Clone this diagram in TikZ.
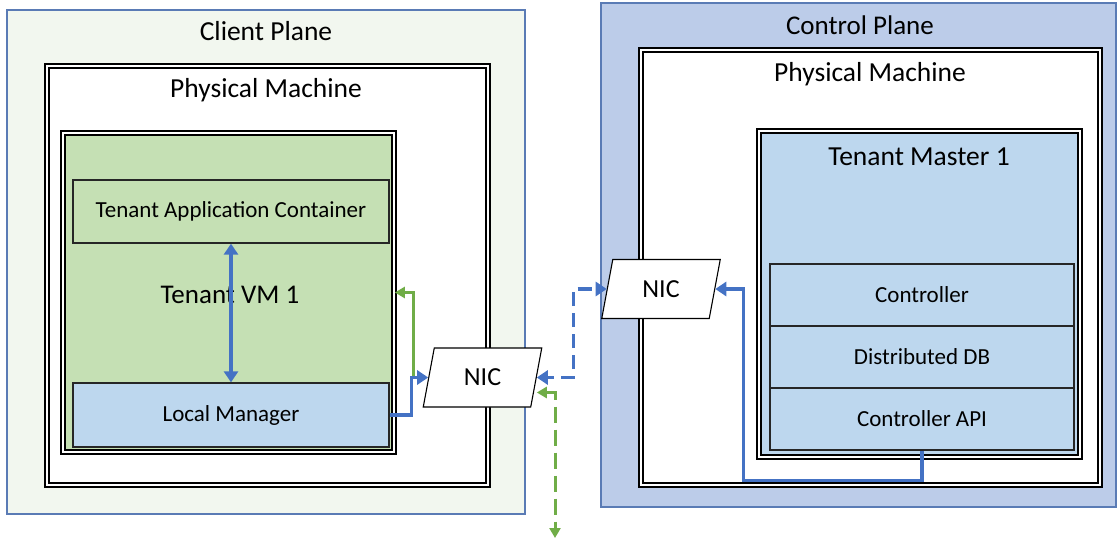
\documentclass[tikz,border=0pt]{standalone}
\usepackage{fontspec}
\setmainfont{Carlito}
\usetikzlibrary{arrows.meta,shapes.geometric}
\definecolor{cpfill}{HTML}{F2F7EF}
\definecolor{cpborder}{HTML}{5A7BB5}
\definecolor{ctlfill}{HTML}{BCCCE9}
\definecolor{vmgreen}{HTML}{C5E0B4}
\definecolor{lightblue}{HTML}{BDD7EE}
\definecolor{arrblue}{HTML}{4472C4}
\definecolor{arrgreen}{HTML}{70AD47}
\newcommand{\fs}[1]{\fontsize{#1}{#1}\selectfont}
\tikzset{
  plane/.style={draw=cpborder, line width=1.2pt, inner sep=0pt},
  dbl/.style={draw=black, double=white, double distance=2pt, line width=1.7pt, inner sep=0pt},
  part/.style={draw=black!85, line width=1.3pt, inner sep=0pt, font=\fs{23}},
  nic/.style={draw=black, line width=1.1pt, fill=white, trapezium, trapezium left angle=76,
    trapezium right angle=104, trapezium stretches=true, minimum width=119pt, minimum height=59pt,
    inner sep=0pt, font=\fs{26}},
  title/.style={inner sep=0pt, font=\fs{27.5}},
  barrow/.style={draw=arrblue, line width=3.2pt, arrows={-Triangle[length=11pt,width=14pt]}},
  garrow/.style={draw=arrgreen, line width=3pt, arrows={-Triangle[length=10pt,width=11pt]}},
}
\begin{document}
\begin{tikzpicture}[x=1pt,y=-1pt]
\useasboundingbox (0,0) rectangle (1117,541);
% planes
\node[plane, fill=cpfill, minimum width=518pt, minimum height=504pt] (client) at (266,262) {};
\node[title] (clientT) at (266,31) {Client Plane};
\node[plane, fill=ctlfill, minimum width=515pt, minimum height=504pt] (control) at (858.5,255) {};
\node[title, font=\fs{27}] (controlT) at (860,25) {Control Plane};
% physical machines
\node[dbl, fill=white, minimum width=441pt, minimum height=419pt] (pmL) at (267.5,275.5) {};
\node[title] (pmLT) at (266,90) {Physical Machine};
\node[dbl, fill=white, minimum width=459pt, minimum height=435pt] (pmR) at (870.5,267.5) {};
\node[title] (pmRT) at (870,74) {Physical Machine};
% tenant VM
\node[dbl, fill=vmgreen, minimum width=331pt, minimum height=319pt] (vm) at (228.5,292.5) {};
\node[part, fill=vmgreen, minimum width=316pt, minimum height=63pt] (app) at (231,211.5) {Tenant Application Container};
\node[part, fill=lightblue, minimum width=316pt, minimum height=64pt] (lm) at (231,415) {Local Manager};
\node[inner sep=0pt, font=\fs{27}] (vmT) at (230,295) {Tenant VM 1};
% tenant master
\node[dbl, fill=lightblue, minimum width=321pt, minimum height=326pt] (tm) at (919.5,294) {};
\node[inner sep=0pt, font=\fs{27.5}] (tmT) at (919,157) {Tenant Master 1};
\node[part, fill=lightblue, minimum width=304pt, minimum height=62pt] (ctrl) at (922,295) {Controller};
\node[part, fill=lightblue, minimum width=304pt, minimum height=62pt] (ddb) at (922,357) {Distributed DB};
\node[part, fill=lightblue, minimum width=304pt, minimum height=62pt] (api) at (922,419) {Controller API};
% NICs
\node[nic] (nicL) at (482.5,377.5) {NIC};
\node[nic] (nicR) at (661,289) {NIC};
% connectors
\coordinate (g1) at (413,377);
\coordinate (gend) at (555,538);
\draw[barrow, arrows={Triangle[length=11pt,width=14pt]-Triangle[length=11pt,width=14pt]}] (app.south) -- (lm.north);
\draw[garrow] (g1) |- (vm.east);
\draw[barrow] (lm.east) -- ++(22,0) |- (nicL.west);
\draw[barrow, dash pattern=on 14pt off 7pt, dash phase=7pt, arrows={Triangle[length=11pt,width=14pt]-Triangle[length=11pt,width=14pt]}] (nicL.east) -- ++(37,0) |- (nicR.west);
\draw[garrow, dash pattern=on 16pt off 7pt, arrows={Triangle[length=10pt,width=11pt]-Triangle[length=10pt,width=11pt]}] ([yshift=-15pt]nicL.east) -| (gend);
\draw[barrow] (api.south) -- ++(0,30) -| ([xshift=28pt]nicR.east) -- (nicR.east);
\end{tikzpicture}
\end{document}
